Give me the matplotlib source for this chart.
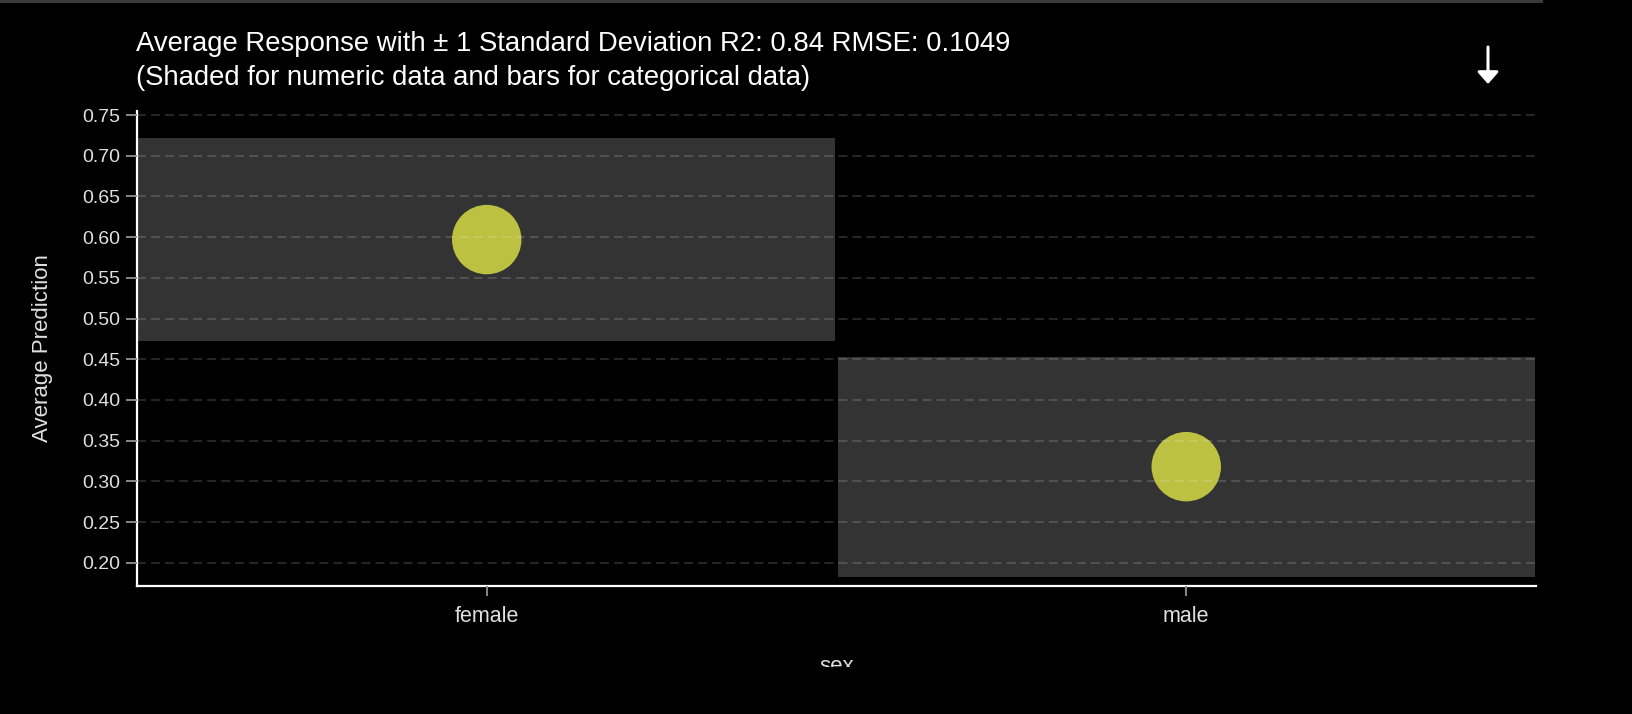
import numpy as np
import matplotlib
matplotlib.use("Agg")
import matplotlib.pyplot as plt
from matplotlib.patches import Rectangle
from matplotlib.transforms import Bbox, TransformedBbox

# valores
categorias = ["female", "male"]
prediccion_media = [0.597, 0.318]
desviacion = [0.125, 0.135]
ticks_y = [0.20, 0.25, 0.30, 0.35, 0.40, 0.45, 0.50, 0.55, 0.60, 0.65, 0.70, 0.75]

titulo_1 = "Average Response with \u00b1 1 Standard Deviation R2: 0.84 RMSE: 0.1049"
titulo_2 = "(Shaded for numeric data and bars for categorical data)"

W, H = 1632, 714
plt.rcParams["font.family"] = ["Liberation Sans", "DejaVu Sans"]
plt.rcParams["lines.scale_dashes"] = False

fig = plt.figure(figsize=(W / 100, H / 100), dpi=100, facecolor="black")
# ejes en pixeles: izq 137, der 1536, arriba 111, abajo 586
ax = fig.add_axes([137 / W, (H - 586) / H, (1536 - 137) / W, (586 - 111) / H])
ax.set_facecolor("black")

x = np.arange(len(categorias))
media = np.array(prediccion_media)
sd = np.array(desviacion)

# barras de +/- 1 desviación estándar
ax.bar(x, 2 * sd, bottom=media - sd, width=0.997, color="#333333", zorder=1)
# punto de la media
ax.scatter(x, media, s=2500, color="#bdc142", edgecolors="none", zorder=2)

ax.set_xlim(-0.5, 1.5)
ax.set_ylim(0.1714, 0.755)
ax.set_xticks(x)
ax.set_xticklabels(categorias)
ax.set_yticks(ticks_y)
ax.set_yticklabels([f"{t:.2f}" for t in ticks_y])

ax.set_axisbelow(False)
ax.grid(True, axis="y", color="white", alpha=0.15, linewidth=1.5,
        linestyle=(0, (6.5, 3.6)))

for lado in ["top", "right"]:
    ax.spines[lado].set_visible(False)
for lado in ["left", "bottom"]:
    ax.spines[lado].set_color("white")
    ax.spines[lado].set_linewidth(1.6)

ax.tick_params(axis="y", length=8, width=1.4, color="#888888", labelcolor="#e0e0e0",
               labelsize=14, pad=4)
ax.tick_params(axis="x", length=7.5, width=1.4, color="#888888", labelcolor="#e0e0e0",
               labelsize=15.5, pad=7)

fig.text(43 / W, 1 - 348 / H, "Average Prediction", rotation=90, color="#e0e0e0",
         fontsize=16, ha="center", va="center")

# etiqueta del eje x recortada como en la captura
t = fig.text(837 / W, 1 - 656 / H, "sex", color="#e0e0e0", fontsize=16,
             ha="center", va="top")
t.set_clip_box(TransformedBbox(Bbox.from_extents(0, (H - 667) / H, 1, 1), fig.transFigure))
t.set_clip_on(True)

# títulos
fig.text(136 / W, 1 - 51 / H, titulo_1, color="white", fontsize=19.8, ha="left", va="baseline")
fig.text(136 / W, 1 - 85 / H, titulo_2, color="white", fontsize=19.8, ha="left", va="baseline")

# flecha de descarga
ax.annotate("", xy=(1488, H - 84), xytext=(1488, H - 47), xycoords="figure pixels",
            textcoords="figure pixels",
            arrowprops=dict(arrowstyle="-|>,head_length=0.45,head_width=0.4",
                            color="white", lw=2.2, mutation_scale=16,
                            shrinkA=0, shrinkB=0))

# línea gris superior
fig.add_artist(Rectangle((0, 1 - 3 / H), 1543 / W, 3 / H, transform=fig.transFigure,
                         color="#3a3a3a", linewidth=0))

fig.savefig("out.png", dpi=100, facecolor="black")
